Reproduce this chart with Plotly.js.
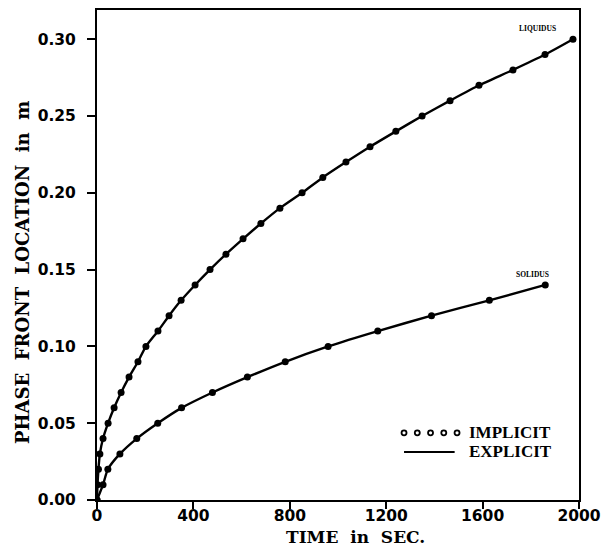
<!DOCTYPE html>
<html>
<head>
<meta charset="utf-8">
<script src="https://cdn.plot.ly/plotly-3.0.1.min.js"></script>
<style>
  html, body { margin: 0; padding: 0; background: #fff; }
  #chart { width: 614px; height: 551px; }
</style>
</head>
<body>
<div id="chart"></div>
<script>
// Liquidus front (time in s, position in m)
const liquidusTime = [0, 2, 6, 12, 25, 46, 71, 100, 133, 170, 203, 253, 299, 349, 407, 469, 535, 606, 680, 759, 851, 937, 1033, 1133, 1240, 1349, 1465, 1585, 1726, 1859, 1975];
const liquidusPos  = [0, 0.01, 0.02, 0.03, 0.04, 0.05, 0.06, 0.07, 0.08, 0.09, 0.10, 0.11, 0.12, 0.13, 0.14, 0.15, 0.16, 0.17, 0.18, 0.19, 0.20, 0.21, 0.22, 0.23, 0.24, 0.25, 0.26, 0.27, 0.28, 0.29, 0.30];
// Solidus front
const solidusTime = [0, 25, 45, 95, 165, 252, 351, 479, 624, 781, 959, 1165, 1388, 1628, 1860];
const solidusPos  = [0, 0.01, 0.02, 0.03, 0.04, 0.05, 0.06, 0.07, 0.08, 0.09, 0.10, 0.11, 0.12, 0.13, 0.14];

const xTicks = [0, 400, 800, 1200, 1600, 2000];
const yTicks = [0.00, 0.05, 0.10, 0.15, 0.20, 0.25, 0.30];
const yTickText = ['0.00', '0.05', '0.10', '0.15', '0.20', '0.25', '0.30'];

const lineStyle = {color: '#000', width: 2.4, shape: 'spline', smoothing: 0.6};
const markerStyle = {color: '#000', size: 7, symbol: 'circle'};

const traces = [
  {x: liquidusTime, y: liquidusPos, mode: 'lines', line: lineStyle, name: 'EXPLICIT', showlegend: false, hoverinfo: 'skip'},
  {x: solidusTime, y: solidusPos, mode: 'lines', line: lineStyle, name: 'EXPLICIT', showlegend: false, hoverinfo: 'skip'},
  {x: liquidusTime, y: liquidusPos, mode: 'markers', marker: markerStyle, name: 'IMPLICIT', showlegend: false},
  {x: solidusTime, y: solidusPos, mode: 'markers', marker: markerStyle, name: 'IMPLICIT', showlegend: false}
];

const tickFont = {family: 'DejaVu Sans', size: 15.5, color: '#000', weight: 'bold'};
const titleFontY = {family: 'DejaVu Serif', size: 18, color: '#000', weight: 'bold'};
const titleFontX = {family: 'DejaVu Serif', size: 17, color: '#000', weight: 'bold'};

// custom legend: five open circles for IMPLICIT, a line for EXPLICIT
const legendShapes = [];
for (let i = 0; i < 5; i++) {
  legendShapes.push({
    type: 'circle', xref: 'paper', yref: 'paper',
    xsizemode: 'pixel', ysizemode: 'pixel',
    xanchor: 0.637 + i * 0.0275, yanchor: 0.137,
    x0: -2.5, x1: 2.5, y0: -2.5, y1: 2.5,
    line: {color: '#000', width: 1.8}, fillcolor: 'rgba(0,0,0,0)'
  });
}
legendShapes.push({
  type: 'line', xref: 'paper', yref: 'paper',
  x0: 0.637, x1: 0.742, y0: 0.098, y1: 0.098,
  line: {color: '#000', width: 2}
});

const legendFont = {family: 'Liberation Serif', size: 17, color: '#000', weight: 'bold'};
const labelFont = {family: 'Liberation Serif', size: 7.5, color: '#000', weight: 'bold'};

const layout = {
  width: 614, height: 551,
  margin: {l: 97, r: 35, t: 10, b: 51},
  paper_bgcolor: '#fff', plot_bgcolor: '#fff',
  showlegend: false,
  xaxis: {
    range: [0, 2000], tickvals: xTicks, ticktext: xTicks.map(String),
    ticks: 'outside', ticklen: 7, tickwidth: 2, tickcolor: '#000',
    showline: true, linewidth: 2, linecolor: '#000', mirror: true,
    showgrid: false, zeroline: false, tickfont: tickFont,
    ticklabelstandoff: -7
  },
  yaxis: {
    range: [0, 0.319], tickvals: yTicks, ticktext: yTickText,
    ticks: 'outside', ticklen: 8, tickwidth: 2, tickcolor: '#000',
    showline: true, linewidth: 2, linecolor: '#000', mirror: true,
    showgrid: false, zeroline: false, tickfont: tickFont,
    ticklabelstandoff: 8
  },
  shapes: legendShapes,
  annotations: [
    {xref: 'paper', yref: 'paper', x: 0.537, y: -0.0755, xanchor: 'center', yanchor: 'middle',
     text: 'TIME  in  SEC.', showarrow: false, font: titleFontX},
    {xref: 'paper', yref: 'paper', x: -0.156, y: 0.465, xanchor: 'center', yanchor: 'middle',
     textangle: -90, text: 'PHASE  FRONT  LOCATION  in  m', showarrow: false, font: titleFontY},
    {xref: 'paper', yref: 'paper', x: 0.768, y: 0.137, xanchor: 'left', yanchor: 'middle',
     text: 'IMPLICIT', showarrow: false, font: legendFont},
    {xref: 'paper', yref: 'paper', x: 0.768, y: 0.098, xanchor: 'left', yanchor: 'middle',
     text: 'EXPLICIT', showarrow: false, font: legendFont},
    {xref: 'x', yref: 'y', x: 1826, y: 0.307, xanchor: 'center', yanchor: 'middle',
     text: 'LIQUIDUS', showarrow: false, font: labelFont},
    {xref: 'x', yref: 'y', x: 1809, y: 0.147, xanchor: 'center', yanchor: 'middle',
     text: 'SOLIDUS', showarrow: false, font: labelFont}
  ]
};

Plotly.newPlot('chart', traces, layout, {displayModeBar: false, staticPlot: true});
</script>
</body>
</html>
